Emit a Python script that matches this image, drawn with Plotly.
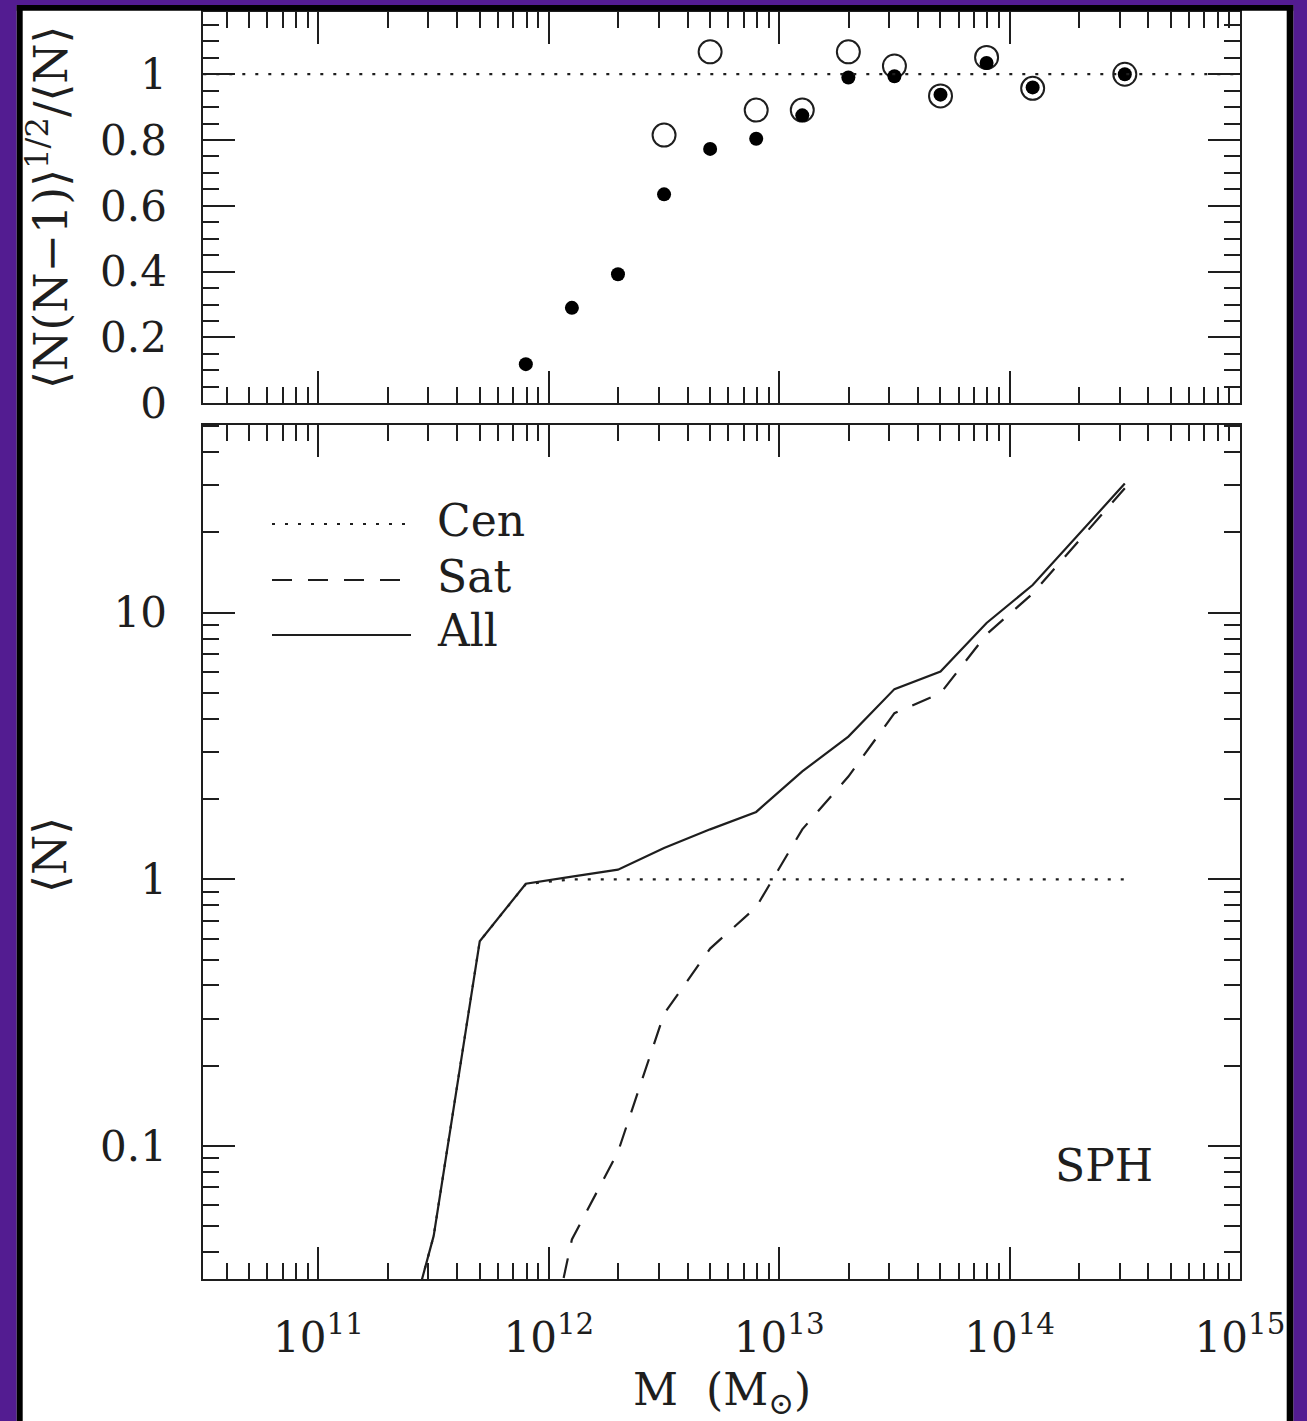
import plotly.graph_objects as go

# ---------------- data ----------------
# top panel: <N(N-1)>^(1/2)/<N> versus halo mass
log_mass_pts = [11.9, 12.1, 12.3, 12.5, 12.7, 12.9, 13.1, 13.3, 13.5, 13.7, 13.9, 14.1, 14.5]
ratio_filled = [0.119, 0.290, 0.392, 0.635, 0.773, 0.804, 0.875, 0.990, 0.994, 0.938, 1.034, 0.960, 1.000]
log_mass_open = [12.5, 12.7, 12.9, 13.1, 13.3, 13.5, 13.7, 13.9, 14.1, 14.5]
ratio_open = [0.815, 1.068, 0.891, 0.891, 1.068, 1.025, 0.934, 1.051, 0.957, 1.000]

# bottom panel: mean occupation <N>
log_mass_hod = [11.3, 11.5, 11.7, 11.9, 12.1, 12.3, 12.5, 12.7, 12.9, 13.1, 13.3, 13.5, 13.7, 13.9, 14.1, 14.5]
n_all = [0.0105, 0.046, 0.586, 0.963, 1.024, 1.087, 1.31, 1.54, 1.79, 2.54, 3.43, 5.17, 6.02, 9.15, 12.7, 30.5]
n_cen = [0.0105, 0.046, 0.586, 0.96, 1.0, 1.0, 1.0, 1.0, 1.0, 1.0, 1.0, 1.0, 1.0, 1.0, 1.0, 1.0]
n_sat = [None, None, None, 0.007, 0.0446, 0.095, 0.313, 0.55, 0.787, 1.54, 2.43, 4.2, 4.99, 8.3, 11.8, 29.3]

# ticks / labels
x_tick_exponents = [11, 12, 13, 14, 15]
x_tick_labels = ["10<sup>11</sup>", "10<sup>12</sup>", "10<sup>13</sup>", "10<sup>14</sup>", "10<sup>15</sup>"]
top_y_ticks = [0, 0.2, 0.4, 0.6, 0.8, 1.0]
top_y_labels = ["0", "0.2", "0.4", "0.6", "0.8", "1"]
bot_y_ticks = [0.1, 1, 10]
bot_y_labels = ["0.1", "1", "10"]
legend_names = ["Cen", "Sat", "All"]
panel_label = "SPH"
top_y_title = "⟨N(N−1)⟩<sup>1/2</sup>/⟨N⟩"
bot_y_title = "⟨N⟩"
x_title = "M  (M<sub>⊙</sub>)"

# ---------------- styling ----------------
W, H = 1307, 1421
INK = "#1e1e1e"
FONT = "DejaVu Serif"
PURPLE = "#531c91"
DOT = "3px,10px"
DASH = "20px,16px"


def px(x):
    return x / W


def py(y):
    return (H - y) / H


mass_pts = [10 ** v for v in log_mass_pts]
mass_open = [10 ** v for v in log_mass_open]
mass_hod = [10 ** v for v in log_mass_hod]
x_tick_vals = [10 ** e for e in x_tick_exponents]
x_minor = [k * 10 ** e for e in range(10, 15) for k in range(2, 10)]
y_minor_log = [k * 10.0 ** e for e in range(-2, 2) for k in range(2, 10)]
y_minor_lin = [round(i * 0.05, 2) for i in range(0, 24)]

fig = go.Figure()

# top panel markers
fig.add_trace(go.Scatter(
    x=mass_open, y=ratio_open, mode="markers", xaxis="x", yaxis="y",
    marker=dict(symbol="circle-open", size=23, color=INK, line=dict(width=2, color=INK)),
    showlegend=False, cliponaxis=False))
fig.add_trace(go.Scatter(
    x=mass_pts, y=ratio_filled, mode="markers", xaxis="x", yaxis="y",
    marker=dict(symbol="circle", size=14, color="#000000", line=dict(width=0)),
    showlegend=False, cliponaxis=False))

# bottom panel lines
fig.add_trace(go.Scatter(x=mass_hod, y=n_cen, mode="lines", xaxis="x2", yaxis="y2",
                         line=dict(color=INK, width=2.2, dash=DOT), name="Cen", showlegend=False))
fig.add_trace(go.Scatter(x=mass_hod, y=n_sat, mode="lines", xaxis="x2", yaxis="y2",
                         line=dict(color=INK, width=2.2, dash=DASH), name="Sat", showlegend=False))
fig.add_trace(go.Scatter(x=mass_hod, y=n_all, mode="lines", xaxis="x2", yaxis="y2",
                         line=dict(color=INK, width=2.2), name="All", showlegend=False))

x_dom = [px(203.3), px(1240)]
top_dom = [py(403.3), py(11.7)]
bot_dom = [py(1279.3), py(425)]

common = dict(showline=True, linecolor=INK, linewidth=2, mirror="allticks",
              ticks="inside", ticklen=32, tickwidth=2, tickcolor=INK,
              showgrid=False, zeroline=False, automargin=False,
              tickfont=dict(family=FONT, size=42, color=INK))
minor_common = dict(ticks="inside", ticklen=16, tickwidth=2, tickcolor=INK, showgrid=False)

fig.update_layout(
    width=W, height=H, margin=dict(l=0, r=0, t=0, b=0),
    paper_bgcolor="white", plot_bgcolor="white", template="none",
    showlegend=False,
    xaxis=dict(common, type="log", range=[10.5, 15], domain=x_dom, anchor="y",
               tickmode="array", tickvals=x_tick_vals, showticklabels=False,
               minor=dict(minor_common, tickmode="array", tickvals=x_minor)),
    yaxis=dict(common, range=[0, 1.19], domain=top_dom, anchor="x",
               tickmode="array", tickvals=top_y_ticks, ticktext=top_y_labels,
               ticklabelstandoff=26,
               minor=dict(minor_common, tickmode="array", tickvals=y_minor_lin)),
    xaxis2=dict(common, type="log", range=[10.5, 15], domain=x_dom, anchor="y2",
                tickmode="array", tickvals=x_tick_vals, ticktext=x_tick_labels,
                ticklabelstandoff=20,
                minor=dict(minor_common, tickmode="array", tickvals=x_minor)),
    yaxis2=dict(common, type="log", range=[-1.5, 1.704], domain=bot_dom, anchor="x2",
                tickmode="array", tickvals=bot_y_ticks, ticktext=bot_y_labels,
                ticklabelstandoff=26,
                minor=dict(minor_common, tickmode="array", tickvals=y_minor_log)),
)

shapes = []
# reference dotted line at 1 in top panel
shapes.append(dict(type="line", xref="x domain", yref="y", x0=0, x1=1, y0=1, y1=1,
                   line=dict(color=INK, width=2.2, dash=DOT), layer="above"))
# legend samples
legend_y = [524, 580, 635]
legend_dash = [DOT, DASH, "solid"]
for yy, dd in zip(legend_y, legend_dash):
    shapes.append(dict(type="line", xref="paper", yref="paper", x0=px(272), x1=px(411),
                       y0=py(yy), y1=py(yy), line=dict(color=INK, width=2.2, dash=dd)))
# purple page border with black frame
frame = [
    (0, 0, 16.7, H, PURPLE), (1293.3, 0, W, H, PURPLE), (0, 0, W, 5, PURPLE),
    (16.7, 5, 22.7, H, "#000000"), (1286.7, 5, 1293.3, H, "#000000"), (16.7, 5, 1293.3, 10.7, "#000000"),
]
for x0, y0, x1, y1, c in frame:
    shapes.append(dict(type="rect", xref="paper", yref="paper", x0=px(x0), x1=px(x1),
                       y0=py(y1), y1=py(y0), fillcolor=c, line=dict(width=0), layer="above"))
fig.update_layout(shapes=shapes)

ann_font = dict(family=FONT, size=44, color=INK)
annotations = []
for name, yy in zip(legend_names, [520, 576, 631]):
    annotations.append(dict(text=name, xref="paper", yref="paper", x=px(435), y=py(yy),
                            xanchor="left", yanchor="middle", showarrow=False, font=ann_font))
annotations.append(dict(text=panel_label, xref="paper", yref="paper", x=px(1155), y=py(1165),
                        xanchor="right", yanchor="middle", showarrow=False, font=ann_font))
annotations.append(dict(text=top_y_title, xref="paper", yref="paper", x=px(48), y=py(207),
                        xanchor="center", yanchor="middle", textangle=-90, showarrow=False,
                        font=dict(family=FONT, size=46, color=INK)))
annotations.append(dict(text=bot_y_title, xref="paper", yref="paper", x=px(50), y=py(855),
                        xanchor="center", yanchor="middle", textangle=-90, showarrow=False,
                        font=dict(family=FONT, size=46, color=INK)))
annotations.append(dict(text=x_title, xref="paper", yref="paper", x=px(722), y=py(1392),
                        xanchor="center", yanchor="middle", showarrow=False, font=ann_font))
fig.update_layout(annotations=annotations)

fig.write_html("out.html", config={"displayModeBar": False})
